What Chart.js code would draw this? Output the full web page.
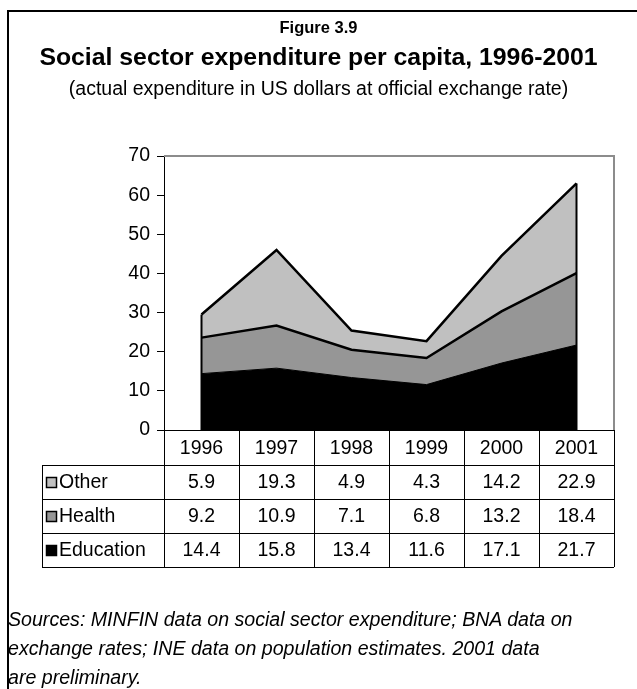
<!DOCTYPE html>
<html>
<head>
<meta charset="utf-8">
<title>Social sector expenditure per capita, 1996-2001</title>
<script src="https://cdn.jsdelivr.net/npm/chart.js@4.4.0/dist/chart.umd.min.js"></script>
<style>
    html, body { margin: 0; padding: 0; background: #fff; }
    body {
        width: 637px; height: 689px; position: relative; overflow: hidden;
        font-family: "Liberation Sans", Arial, sans-serif; color: #000;
    }
    #cadre {
        position: absolute; left: 7px; top: 10px; right: -5px; bottom: -5px;
        border-top: 2px solid #000; border-left: 2px solid #000;
    }
    canvas { position: absolute; left: 0; top: 0; }
    .ligne { position: absolute; left: 0; width: 637px; text-align: center; height: 30px; line-height: 30px; white-space: nowrap; }
    #numero { top: 12px; font-size: 16.5px; font-weight: bold; }
    #titre { top: 42px; font-size: 24.8px; font-weight: bold; }
    #soustitre { top: 73px; font-size: 19.5px; }
    #sources {
        position: absolute; left: 8px; top: 605px; font-size: 19.6px; font-style: italic;
        line-height: 29px; white-space: nowrap;
    }
</style>
</head>
<body>
<div id="cadre"></div>
<canvas id="chartDepensesSociales" width="637" height="689"></canvas>
<div class="ligne" id="numero">Figure 3.9</div>
<div class="ligne" id="titre">Social sector expenditure per capita, 1996-2001</div>
<div class="ligne" id="soustitre">(actual expenditure in US dollars at official exchange rate)</div>
<div id="sources">Sources: MINFIN data on social sector expenditure; BNA data on<br>exchange rates; INE data on population estimates. 2001 data<br>are preliminary.</div>

<script>
// Données (USD par habitant)
const annees = ['1996', '1997', '1998', '1999', '2000', '2001'];
const education = [14.4, 15.8, 13.4, 11.6, 17.1, 21.7];
const sante = [9.2, 10.9, 7.1, 6.8, 13.2, 18.4];
const autres = [5.9, 19.3, 4.9, 4.3, 14.2, 22.9];
const graduationsY = [0, 10, 20, 30, 40, 50, 60, 70];

const nomsSeries = ['Education', 'Health', 'Other'];
const couleursSeries = ['#000000', '#969696', '#c0c0c0'];

const police = '"Liberation Sans", Arial, sans-serif';
const taillePolice = 19.5;

// Tableau de données sous le graphique + cadre de la zone de tracé
const tableauPlugin = {
    id: 'tableauDonnees',
    afterDatasetsDraw(chart) {
        const ctx = chart.ctx;
        const area = chart.chartArea;
        const x = chart.scales.x;
        const y = chart.scales.y;

        // Bords verticaux des aires aux extrémités
        ctx.save();
        ctx.strokeStyle = '#000';
        ctx.lineWidth = 2;
        [0, annees.length - 1].forEach(i => {
            const total = education[i] + sante[i] + autres[i];
            const px = x.getPixelForValue(i);
            ctx.beginPath();
            ctx.moveTo(px, y.getPixelForValue(total));
            ctx.lineTo(px, y.getPixelForValue(0));
            ctx.stroke();
        });

        // Cadre gris (haut et droite)
        ctx.strokeStyle = '#8c8c8c';
        ctx.lineWidth = 2;
        ctx.beginPath();
        ctx.moveTo(area.left, area.top);
        ctx.lineTo(area.right, area.top);
        ctx.lineTo(area.right, area.bottom);
        ctx.stroke();
        ctx.restore();
    },
    afterDraw(chart) {
        const ctx = chart.ctx;
        const area = chart.chartArea;
        const x = chart.scales.x;
        const pas = x.getPixelForValue(1) - x.getPixelForValue(0);
        const hautEntete = 35;
        const hautLigne = 34;
        const gaucheLegende = 42;
        const haut = area.bottom;

        const lignes = [
            { nom: nomsSeries[2], valeurs: autres, couleur: couleursSeries[2] },
            { nom: nomsSeries[1], valeurs: sante, couleur: couleursSeries[1] },
            { nom: nomsSeries[0], valeurs: education, couleur: couleursSeries[0] }
        ];
        const bas = haut + hautEntete + hautLigne * lignes.length;

        ctx.save();
        ctx.strokeStyle = '#000';
        ctx.lineWidth = 1;

        // Ligne de l'axe X (haut du tableau)
        ctx.beginPath();
        ctx.moveTo(area.left, Math.round(haut) + 0.5);
        ctx.lineTo(area.right, Math.round(haut) + 0.5);
        ctx.stroke();

        // Lignes horizontales
        for (let r = 0; r <= lignes.length; r++) {
            const yy = Math.round(haut + hautEntete + r * hautLigne) + 0.5;
            ctx.beginPath();
            ctx.moveTo(gaucheLegende, yy);
            ctx.lineTo(area.right, yy);
            ctx.stroke();
        }

        // Lignes verticales
        for (let c = 0; c <= annees.length; c++) {
            const xx = Math.round(x.getPixelForValue(c) - pas / 2) + 0.5;
            ctx.beginPath();
            ctx.moveTo(xx, haut);
            ctx.lineTo(xx, bas);
            ctx.stroke();
        }
        ctx.beginPath();
        ctx.moveTo(gaucheLegende + 0.5, haut + hautEntete);
        ctx.lineTo(gaucheLegende + 0.5, bas);
        ctx.stroke();

        // En-têtes (années)
        ctx.fillStyle = '#000';
        ctx.font = taillePolice + 'px ' + police;
        ctx.textAlign = 'center';
        ctx.textBaseline = 'middle';
        annees.forEach((a, i) => {
            ctx.fillText(a, x.getPixelForValue(i), haut + hautEntete / 2 + 1);
        });

        // Lignes de valeurs avec clés de légende
        lignes.forEach((ligne, r) => {
            const yc = haut + hautEntete + r * hautLigne + hautLigne / 2 + 1;
            ctx.textAlign = 'center';
            ligne.valeurs.forEach((v, i) => {
                ctx.fillText(v.toFixed(1), x.getPixelForValue(i), yc);
            });

            ctx.fillStyle = ligne.couleur;
            ctx.fillRect(46, yc - 6, 11, 11);
            ctx.strokeStyle = '#000';
            ctx.lineWidth = 1.5;
            ctx.strokeRect(46.5, yc - 5.5, 10, 10);

            ctx.fillStyle = '#000';
            ctx.textAlign = 'left';
            ctx.fillText(ligne.nom, 59, yc);
        });
        ctx.restore();
    }
};

const canvas = document.getElementById('chartDepensesSociales');

new Chart(canvas, {
    type: 'line',
    data: {
        labels: annees,
        datasets: [
            {
                label: nomsSeries[0],
                data: education,
                backgroundColor: couleursSeries[0],
                borderColor: '#000',
                borderWidth: 1,
                fill: 'origin'
            },
            {
                label: nomsSeries[1],
                data: sante,
                backgroundColor: couleursSeries[1],
                borderColor: '#000',
                borderWidth: 2.5,
                fill: '-1'
            },
            {
                label: nomsSeries[2],
                data: autres,
                backgroundColor: couleursSeries[2],
                borderColor: '#000',
                borderWidth: 2.5,
                fill: '-1'
            }
        ]
    },
    options: {
        responsive: false,
        animation: false,
        devicePixelRatio: 1,
        layout: {
            padding: { left: 114, top: 156, right: 23, bottom: 259 }
        },
        elements: {
            point: { radius: 0 },
            line: { tension: 0 }
        },
        plugins: {
            legend: { display: false },
            tooltip: { enabled: false },
            title: { display: false }
        },
        scales: {
            x: {
                display: false,
                offset: true
            },
            y: {
                stacked: true,
                min: 0,
                max: 70,
                afterBuildTicks: scale => {
                    scale.ticks = graduationsY.map(v => ({ value: v }));
                },
                afterFit: scale => {
                    scale.width = 50;
                },
                grid: {
                    drawOnChartArea: false,
                    drawTicks: true,
                    tickLength: 7,
                    color: '#000',
                    lineWidth: 1
                },
                border: { display: true, color: '#000', width: 1 },
                ticks: {
                    color: '#000',
                    padding: 7,
                    font: { family: police, size: taillePolice }
                }
            }
        }
    },
    plugins: [tableauPlugin]
});
</script>
</body>
</html>
